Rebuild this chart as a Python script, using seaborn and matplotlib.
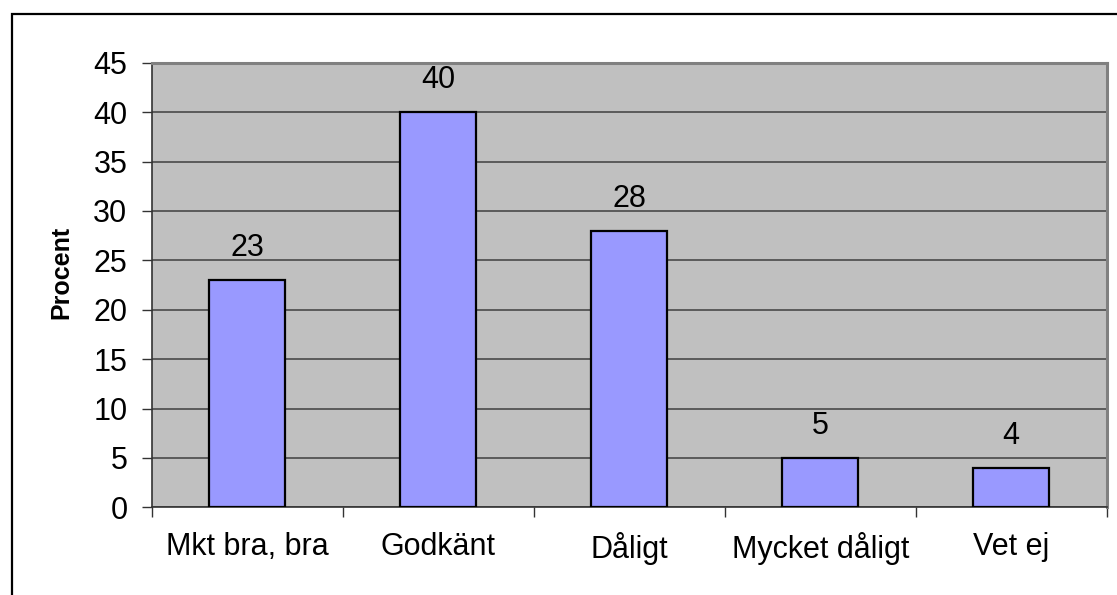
import matplotlib
matplotlib.use('Agg')
import matplotlib.pyplot as plt
import matplotlib.patches as mpatches
from matplotlib.ticker import MultipleLocator, FixedLocator
import seaborn as sns
import pandas as pd

# Data
categories = ['Mkt bra, bra', 'Godkänt', 'Dåligt', 'Mycket dåligt', 'Vet ej']
values = [23, 40, 28, 5, 4]
y_label = 'Procent'

df = pd.DataFrame({'kategori': categories, 'procent': values})

sns.set_theme(style='white')
plt.rcParams['font.family'] = ['Liberation Sans', 'DejaVu Sans']
plt.rcParams['text.color'] = 'black'
plt.rcParams['axes.labelcolor'] = 'black'
plt.rcParams['xtick.labelcolor'] = 'black'
plt.rcParams['ytick.labelcolor'] = 'black'

fig = plt.figure(figsize=(11.17, 5.95), dpi=100)
ax = fig.add_axes([151.7 / 1117, 1 - 507.3 / 595, (1106.7 - 151.7) / 1117, (507.3 - 62.7) / 595])

ax.set_facecolor('#C0C0C0')
sns.barplot(data=df, x='kategori', y='procent', color='#9999FF', saturation=1,
            width=0.4, edgecolor='black', linewidth=1.6, ax=ax, zorder=3)

ax.set_ylim(0, 45)
ax.set_xlim(-0.5, len(categories) - 0.5)
ax.yaxis.set_major_locator(MultipleLocator(5))
ax.grid(axis='y', color='#4a4a4a', linewidth=1.2, zorder=0)
ax.set_axisbelow(True)

# category boundary ticks
ax.xaxis.set_minor_locator(FixedLocator([i - 0.5 for i in range(len(categories) + 1)]))
ax.tick_params(axis='x', which='major', length=0, pad=18, labelsize=22, labelcolor='black')
ax.tick_params(axis='x', which='minor', length=7.5, width=1.0, color='#333333', direction='out', bottom=True)
ax.tick_params(axis='y', which='major', length=7.5, width=1.0, color='#333333', direction='out',
               left=True, pad=10, labelsize=22, labelcolor='black')

for side in ['top', 'right']:
    ax.spines[side].set_color('#808080')
    ax.spines[side].set_linewidth(2.2)
for side in ['left', 'bottom']:
    ax.spines[side].set_color('#333333')
    ax.spines[side].set_linewidth(1.2)

ax.set_xlabel('')
ax.set_ylabel(y_label, fontsize=18, fontweight='bold', va='center', color='black')
ax.yaxis.set_label_coords((61 - 151.7) / 955, (507.3 - 272.5) / 444.6)

ax.bar_label(ax.containers[0], labels=[str(v) for v in values], padding=12, fontsize=22, color='black')

# outer chart border (left and top visible)
border = mpatches.Rectangle((11.7 / 1117, -0.5), 1.5, 0.5 + 1 - 14.3 / 595,
                            transform=fig.transFigure, fill=False,
                            edgecolor='black', linewidth=1.6, clip_on=False)
fig.add_artist(border)

fig.savefig('out.png', dpi=100, facecolor='white')
